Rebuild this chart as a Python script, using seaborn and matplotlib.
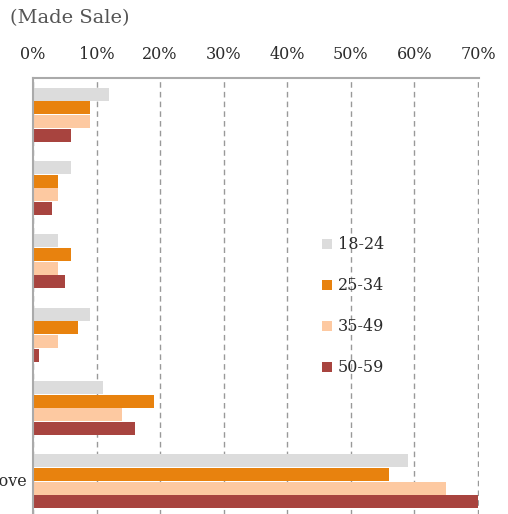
import matplotlib
matplotlib.use("Agg")
import matplotlib.pyplot as plt
import matplotlib.transforms as mtransforms
import pandas as pd
import seaborn as sns

# ---- data ----
categories = ["Facebook", "Twitter", "LinkedIn", "Pinterest", "Other", "None of the above"]
age_groups = ["18-24", "25-34", "35-49", "50-59"]
share_18_24 = [12, 6, 4, 9, 11, 59]
share_25_34 = [9, 4, 6, 7, 19, 56]
share_35_49 = [9, 4, 4, 4, 14, 65]
share_50_59 = [6, 3, 5, 1, 16, 70]
x_ticks = [0, 10, 20, 30, 40, 50, 60, 70]

palette = ["#dcdcdc", "#e8820e", "#fdc9a1", "#a8443f"]

rows = []
for age, vals in zip(age_groups, [share_18_24, share_25_34, share_35_49, share_50_59]):
    for cat, v in zip(categories, vals):
        rows.append({"category": cat, "age": age, "share": v})
df = pd.DataFrame(rows)

sns.set_theme(style="white")
plt.rcParams["font.family"] = ["DejaVu Serif"]

fig = plt.figure(figsize=(5.08, 5.14), dpi=100)
ax = fig.add_axes([33 / 508, 1 - 518 / 514, 446 / 508, 440 / 514])

sns.barplot(
    data=df, y="category", x="share", hue="age", order=categories,
    hue_order=age_groups, palette=palette, orient="h", width=0.74,
    gap=0.04, saturation=1, linewidth=0, ax=ax,
)

ax.set_xlim(0, 70.15)
ax.set_ylim(5.5, -0.5)
ax.xaxis.tick_top()
ax.set_xticks(x_ticks)
ax.set_xticklabels([f"{t}%" for t in x_ticks], fontsize=11.5, color="#2b2b2b")
ax.tick_params(axis="x", length=0, pad=11)
ax.set_yticks([])
ax.set_xlabel("")
ax.set_ylabel("")
ax.grid(axis="x", color="#999999", linestyle=(0, (4, 3)), linewidth=1)
ax.set_axisbelow(True)
for side in ["right", "bottom"]:
    ax.spines[side].set_visible(False)
for side in ["top", "left"]:
    ax.spines[side].set_color("#aaaaaa")
    ax.spines[side].set_linewidth(1.5)

ax.legend(
    loc="upper left", bbox_to_anchor=(275 / 446, (518 - 222) / 440),
    frameon=False, fontsize=11.5, handlelength=0.6, handleheight=0.6,
    handletextpad=0.35, labelspacing=1.5, labelcolor="#2b2b2b",
)

# the category labels lie off the left edge in the reference; only the tail
# of the last one ("...ove") is in frame
blend = mtransforms.blended_transform_factory(fig.dpi_scale_trans, ax.transData)
last = ax.text(0, len(categories) - 1, categories[-1], transform=blend,
               ha="left", va="center", fontsize=11.5, color="#2b2b2b")
fig.canvas.draw()
w = last.get_window_extent(fig.canvas.get_renderer()).width
last.set_x((27 - w) / fig.dpi)

fig.text(10 / 508, 1 - 18 / 514, "(Made Sale)", fontsize=14, color="#555555",
         va="center", ha="left")

fig.savefig("out.png", dpi=100)
